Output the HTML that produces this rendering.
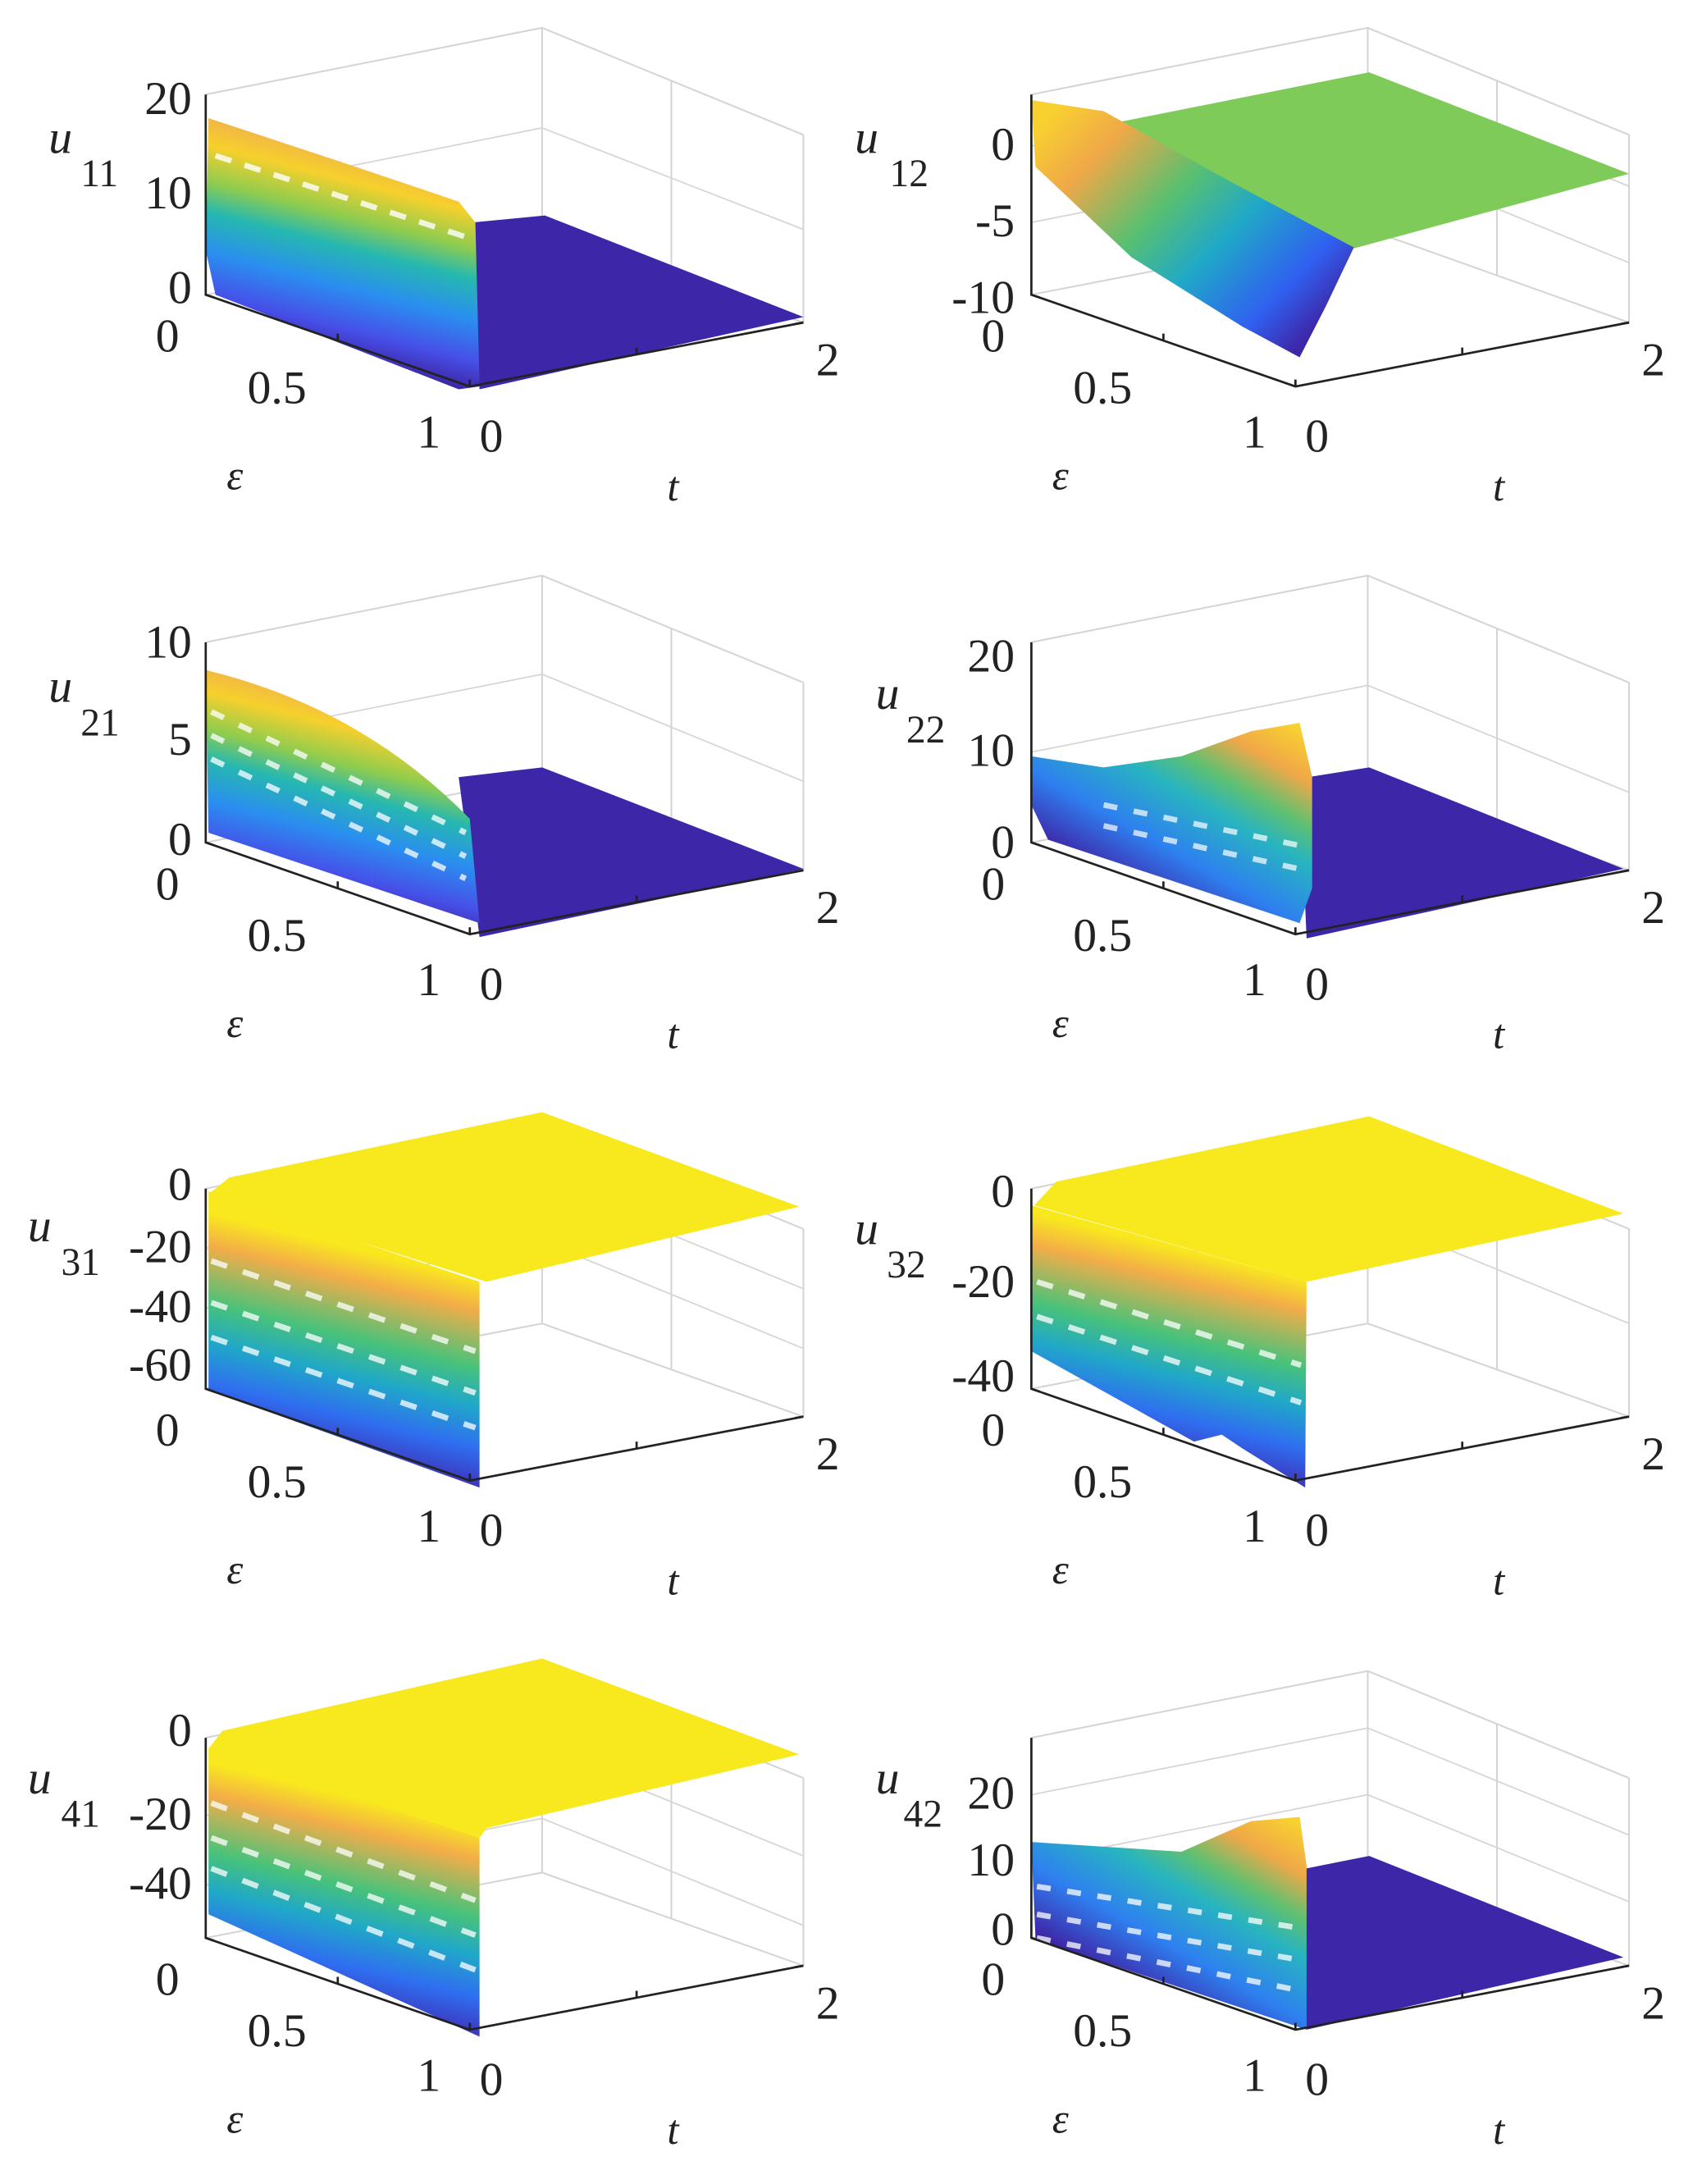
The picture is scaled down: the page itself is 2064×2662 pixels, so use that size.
<!DOCTYPE html>
<html><head><meta charset="utf-8"><style>
html,body{margin:0;padding:0;background:#fff;}
svg{display:block;}
svg text{font-family:"Liberation Serif","DejaVu Serif",serif !important;fill:#222;}
</style></head><body>
<svg width="2064" height="2662" viewBox="0 0 1218 1571" preserveAspectRatio="none" xmlns="http://www.w3.org/2000/svg" font-family="Liberation Serif, serif">
<defs>
<linearGradient id="gw" gradientUnits="userSpaceOnUse" x1="250" y1="112" x2="215" y2="250">
<stop offset="0" stop-color="#f2b844"/><stop offset="0.12" stop-color="#f6d02c"/><stop offset="0.3" stop-color="#8fcc4e"/><stop offset="0.45" stop-color="#26b8b0"/><stop offset="0.65" stop-color="#2a8ef0"/><stop offset="0.85" stop-color="#4650e8"/><stop offset="1" stop-color="#3e26a8"/>
</linearGradient>
<linearGradient id="gw2" gradientUnits="userSpaceOnUse" x1="250" y1="110" x2="215" y2="255">
<stop offset="0" stop-color="#f9e81e"/><stop offset="0.15" stop-color="#f3ad48"/><stop offset="0.42" stop-color="#48c27a"/><stop offset="0.6" stop-color="#20a8c8"/><stop offset="0.8" stop-color="#2f6ef0"/><stop offset="1" stop-color="#3e30b8"/>
</linearGradient>
<linearGradient id="g12" gradientUnits="userSpaceOnUse" x1="165" y1="80" x2="340" y2="250">
<stop offset="0" stop-color="#f8d030"/><stop offset="0.18" stop-color="#f0a848"/><stop offset="0.42" stop-color="#58c070"/><stop offset="0.62" stop-color="#20a8c8"/><stop offset="0.85" stop-color="#3060f0"/><stop offset="1" stop-color="#3e26a8"/>
</linearGradient>
<linearGradient id="g22" gradientUnits="userSpaceOnUse" x1="330" y1="125" x2="250" y2="265">
<stop offset="0" stop-color="#f8d030"/><stop offset="0.18" stop-color="#f0a848"/><stop offset="0.35" stop-color="#60c070"/><stop offset="0.5" stop-color="#28b4c0"/><stop offset="0.75" stop-color="#2e80f0"/><stop offset="1" stop-color="#3e26a8"/>
</linearGradient>
<g id="box" fill="none" stroke="#d4d4d4" stroke-width="1.2">
<path d="M148 68 L390 20 L578 97 M390 20 L390 165 M483 58 L483 198 M578 97 L578 232 M148 212 L390 165 L578 232"/>
</g>
<g id="axes" fill="none" stroke="#222" stroke-width="1.6">
<path d="M148 68 V212 L338 278 L578 232"/>
<path d="M148 212 l6 2 M243 245 l0 -5 M338 278 l0 -5 M458 255 l0 -5 M578 232 l-6 1"/>
</g>
<g id="lab">
<text x="112" y="253" font-size="34">0</text>
<text x="178" y="290" font-size="34">0.5</text>
<text x="300" y="322" font-size="34">1</text>
<text x="345" y="325" font-size="34">0</text>
<text x="587" y="270" font-size="34">2</text>
<text x="163" y="352" font-size="30" font-style="italic">ε</text>
<text x="480" y="360" font-size="30" font-style="italic">t</text>
</g>
</defs>

<!-- u11 -->
<g>
<use href="#box"/>
<path d="M148 140 L390 92 L578 165" fill="none" stroke="#d4d4d4"/>
<polygon points="340,160 392,155 578,228 345,280" fill="#3e26a8"/>
<polygon points="150,85 250,118 330,145 342,160 345,278 330,280 155,212 148,180" fill="url(#gw)"/>
<path d="M155 112 L340 172" stroke="#fff" stroke-width="4" stroke-dasharray="12 10" fill="none" opacity="0.8"/>
<use href="#axes"/><use href="#lab"/>
<g font-size="34" text-anchor="end"><text x="138" y="82">20</text><text x="138" y="150">10</text><text x="138" y="218">0</text></g>
<text x="35" y="110" font-size="34" font-style="italic">u</text><text x="58" y="134" font-size="28">11</text>
</g>

<!-- u12 -->
<g transform="translate(594,0)">
<use href="#box"/>
<path d="M148 105 L390 57 L578 134 M148 160 L390 112 L578 189" fill="none" stroke="#d4d4d4"/>
<polygon points="200,90 391,52 578,125 375,180" fill="#7fcb5a"/>
<polygon points="148,72 200,80 290,130 380,178 360,220 341,257 300,235 220,185 151,120" fill="url(#g12)"/>
<use href="#axes"/><use href="#lab"/>
<g font-size="34" text-anchor="end"><text x="136" y="115">0</text><text x="136" y="170">-5</text><text x="136" y="225">-10</text></g>
<text x="21" y="110" font-size="34" font-style="italic">u</text><text x="46" y="134" font-size="28">12</text>
</g>

<!-- u21 -->
<g transform="translate(0,394)">
<use href="#box"/>
<path d="M148 139 L390 91 L578 168" fill="none" stroke="#d4d4d4"/>
<polygon points="330,165 390,158 578,231 345,280" fill="#3e26a8"/>
<path d="M148 88 Q260 115 338 195 L345 270 L150 205 Z" fill="url(#gw)"/>
<g stroke="#fff" stroke-width="4" fill="none" stroke-dasharray="10 12" opacity="0.75">
<path d="M152 118 L335 205 M152 135 L335 222 M152 152 L335 238"/>
</g>
<use href="#axes"/><use href="#lab"/>
<g font-size="34" text-anchor="end"><text x="138" y="79">10</text><text x="138" y="149">5</text><text x="138" y="221">0</text></g>
<text x="35" y="111" font-size="34" font-style="italic">u</text><text x="58" y="135" font-size="28">21</text>
</g>

<!-- u22 -->
<g transform="translate(594,394)">
<use href="#box"/>
<path d="M148 147 L390 99 L578 176" fill="none" stroke="#d4d4d4"/>
<polygon points="341,166 391,158 574,231 346,281" fill="#3e26a8"/>
<polygon points="148,150 200,158 256,150 306,132 341,126 350,165 350,245 341,270 160,210 148,185" fill="url(#g22)"/>
<g stroke="#fff" stroke-width="4" fill="none" stroke-dasharray="10 12" opacity="0.7">
<path d="M200 185 L345 215 M200 200 L345 232"/>
</g>
<use href="#axes"/><use href="#lab"/>
<g font-size="34" text-anchor="end"><text x="136" y="89">20</text><text x="136" y="157">10</text><text x="136" y="223">0</text></g>
<text x="36" y="116" font-size="34" font-style="italic">u</text><text x="58" y="140" font-size="28">22</text>
</g>

<!-- u31 -->
<g transform="translate(0,787)">
<use href="#box"/>
<path d="M148 111 L390 63 L578 140 M148 154 L390 106 L578 183" fill="none" stroke="#d4d4d4"/>
<polygon points="150,70 345,135 345,283 150,213" fill="url(#gw2)"/>
<polygon points="150,72 165,60 390,13 575,81 350,135" fill="#f8e81e"/>
<g stroke="#fff" stroke-width="4" fill="none" stroke-dasharray="12 12" opacity="0.75">
<path d="M152 120 L342 185 M152 150 L342 215 M152 175 L342 240"/>
</g>
<use href="#axes"/><use href="#lab"/>
<g font-size="34" text-anchor="end"><text x="138" y="76">0</text><text x="138" y="121">-20</text><text x="138" y="164">-40</text><text x="138" y="206">-60</text></g>
<text x="20" y="106" font-size="34" font-style="italic">u</text><text x="44" y="130" font-size="28">31</text>
</g>

<!-- u32 -->
<g transform="translate(594,787)">
<use href="#box"/>
<path d="M148 136 L390 88 L578 165" fill="none" stroke="#d4d4d4"/>
<polygon points="148,80 346,135 345,283 300,255 285,245 265,250 148,185" fill="url(#gw2)"/>
<polygon points="150,80 166,63 391,16 574,86 346,135" fill="#f8e81e"/>
<g stroke="#fff" stroke-width="4" fill="none" stroke-dasharray="12 12" opacity="0.75">
<path d="M152 135 L342 195 M152 160 L342 222"/>
</g>
<use href="#axes"/><use href="#lab"/>
<g font-size="34" text-anchor="end"><text x="136" y="81">0</text><text x="136" y="146">-20</text><text x="136" y="214">-40</text></g>
<text x="21" y="108" font-size="34" font-style="italic">u</text><text x="44" y="132" font-size="28">32</text>
</g>

<!-- u41 -->
<g transform="translate(0,1182)">
<use href="#box"/>
<path d="M148 124 L390 76 L578 153 M148 174 L390 126 L578 203" fill="none" stroke="#d4d4d4"/>
<polygon points="150,75 345,140 345,283 150,195" fill="url(#gw2)"/>
<polygon points="150,76 160,63 390,11 575,80 350,133 345,140" fill="#f8e81e"/>
<g stroke="#fff" stroke-width="4" fill="none" stroke-dasharray="12 12" opacity="0.75">
<path d="M152 115 L342 185 M152 140 L342 210 M152 162 L342 235"/>
</g>
<use href="#axes"/><use href="#lab"/>
<g font-size="34" text-anchor="end"><text x="138" y="74">0</text><text x="138" y="134">-20</text><text x="138" y="184">-40</text></g>
<text x="20" y="108" font-size="34" font-style="italic">u</text><text x="44" y="132" font-size="28">41</text>
</g>

<!-- u42 -->
<g transform="translate(594,1182)">
<use href="#box"/>
<path d="M148 109 L390 61 L578 138 M148 157 L390 109 L578 186" fill="none" stroke="#d4d4d4"/>
<polygon points="341,163 391,153 574,226 346,278" fill="#3e26a8"/>
<polygon points="148,143 256,150 306,128 341,125 346,160 346,278 151,213" fill="url(#g22)"/>
<g stroke="#fff" stroke-width="4" fill="none" stroke-dasharray="10 12" opacity="0.75">
<path d="M152 175 L342 205 M152 195 L342 228 M152 212 L342 250"/>
</g>
<use href="#axes"/><use href="#lab"/>
<g font-size="34" text-anchor="end"><text x="136" y="119">20</text><text x="136" y="167">10</text><text x="136" y="217">0</text></g>
<text x="36" y="108" font-size="34" font-style="italic">u</text><text x="56" y="132" font-size="28">42</text>
</g>
</svg>
</body></html>
